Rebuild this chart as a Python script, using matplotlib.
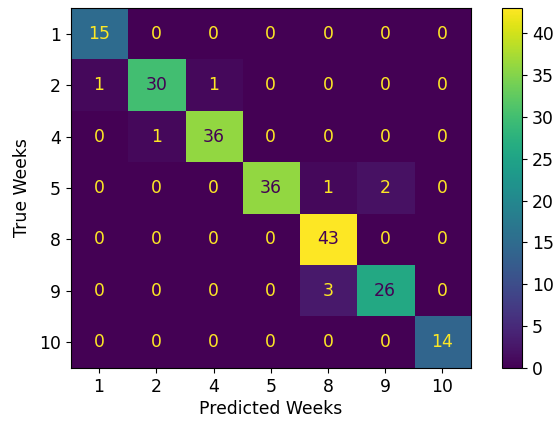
import numpy as np
import matplotlib as mpl
import matplotlib.pyplot as plt

mpl.use("Agg")

plt.rcParams.update({"font.size": 12.4})

labels = ["1", "2", "4", "5", "8", "9", "10"]
cm = np.array([
    [15, 0, 0, 0, 0, 0, 0],
    [1, 30, 1, 0, 0, 0, 0],
    [0, 1, 36, 0, 0, 0, 0],
    [0, 0, 0, 36, 1, 2, 0],
    [0, 0, 0, 0, 43, 0, 0],
    [0, 0, 0, 0, 3, 26, 0],
    [0, 0, 0, 0, 0, 0, 14],
])

cmap = plt.get_cmap("viridis")
fig = plt.figure(figsize=(5.6, 4.23), dpi=100)
ax = fig.add_axes([70.5 / 560, 1 - 368 / 423, 400.5 / 560, 360 / 423])
cax = fig.add_axes([501.7 / 560, 1 - 368 / 423, 20.3 / 560, 360 / 423])

im = ax.imshow(cm, cmap=cmap, aspect="auto", interpolation="nearest")
thresh = (cm.max() + cm.min()) / 2.0
for i in range(cm.shape[0]):
    for j in range(cm.shape[1]):
        color = cmap(0.0) if cm[i, j] >= thresh else cmap(1.0)
        ax.text(j, i, str(cm[i, j]), ha="center", va="center", color=color)

ax.set_xticks(np.arange(len(labels)), labels=labels)
ax.set_yticks(np.arange(len(labels)), labels=labels)
ax.set_xlabel("Predicted Weeks", labelpad=3)
ax.set_ylabel("True Weeks", labelpad=6)
fig.colorbar(im, cax=cax)

plt.savefig("out.png", dpi=100)
